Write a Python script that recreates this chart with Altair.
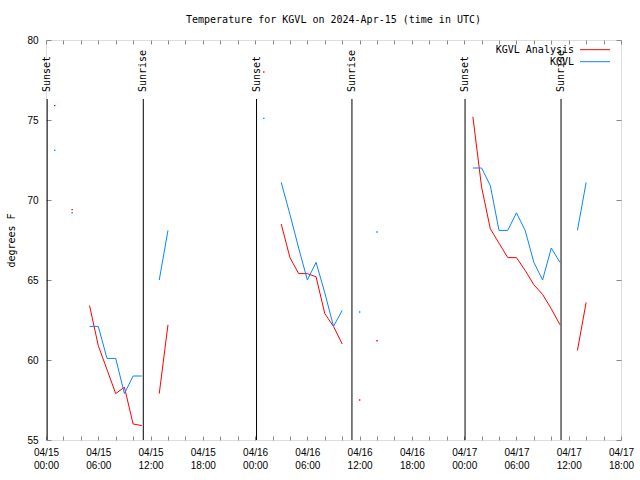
import altair as alt
import pandas as pd

FONT = "DejaVu Sans Mono"

# hours since 2024-04-15 00:00 UTC at which values exist
obs_hours = [1, 3, 5, 6, 7, 8, 9, 10, 11, 13, 14,
             25, 27, 28, 29, 30, 31, 32, 33, 34, 36, 38,
             49, 50, 51, 52, 53, 54, 55, 56, 57, 58, 59, 61, 62]
analysis_f = [75.9, 69.4, 63.4, 60.9, 59.4, 57.9, 58.3, 56.0, 55.9, 57.9, 62.2,
              78.0, 68.5, 66.4, 65.4, 65.4, 65.2, 62.9, 62.1, 61.0, 57.5, 61.2,
              75.2, 70.8, 68.2, 67.3, 66.4, 66.4, 65.6, 64.7, 64.1, 63.2, 62.2, 60.6, 63.6]
kgvl_f = [73.1, 69.2, 62.1, 62.1, 60.1, 60.1, 57.9, 59.0, 59.0, 65.0, 68.1,
          75.1, 71.1, 69.1, 67.0, 65.0, 66.1, 64.2, 62.1, 63.1, 63.0, 68.0,
          72.0, 72.0, 70.9, 68.1, 68.1, 69.2, 68.1, 66.1, 65.0, 67.0, 66.1, 68.1, 71.1]

series_names = ["KGVL Analysis", "KGVL"]
series_colors = ["#ff0000", "#0a84ff"]

sun_times = ["2024-04-15T00:08:00Z", "2024-04-15T11:10:00Z",
             "2024-04-16T00:10:00Z", "2024-04-16T11:07:00Z",
             "2024-04-17T00:06:00Z", "2024-04-17T11:07:00Z"]
sun_labels = ["Sunset", "Sunrise", "Sunset", "Sunrise", "Sunset", "Sunrise"]

title_text = "Temperature for KGVL on 2024-Apr-15 (time in UTC)"
y_title = "degrees F"
y_ticks = [55, 60, 65, 70, 75, 80]

# ---- build tables ----
base = pd.Timestamp("2024-04-15 00:00", tz="UTC")
seg_ids = []
seg = 0
for i, h in enumerate(obs_hours):
    if i > 0 and h - obs_hours[i - 1] != 1:
        seg += 1
    seg_ids.append(seg)
seg_sizes = pd.Series(seg_ids).value_counts().to_dict()

rows = []
for name, vals in zip(series_names, [analysis_f, kgvl_f]):
    for h, v, s in zip(obs_hours, vals, seg_ids):
        t = (base + pd.Timedelta(hours=h)).strftime("%Y-%m-%dT%H:%M:%SZ")
        rows.append({"time": t, "series": name, "temp": v, "seg": s,
                     "single": bool(seg_sizes[s] == 1)})
df = pd.DataFrame(rows)
df_single = df[df["single"]]
sun_df = pd.DataFrame({"time": sun_times, "label": sun_labels})

x_dom = [alt.DateTime(year=2024, month=4, date=15, hours=0, utc=True),
         alt.DateTime(year=2024, month=4, date=17, hours=18, utc=True)]
xscale = alt.Scale(type="utc", domain=x_dom)
yscale = alt.Scale(domain=[55, 80], nice=False, zero=False)
tick_vals = [alt.DateTime(year=2024, month=4, date=15 + h // 24, hours=h % 24, utc=True)
             for h in range(0, 67, 2)]

label_expr = ("utchours(datum.value) % 6 == 0 ? "
              "[utcFormat(datum.value, '%m/%d'), utcFormat(datum.value, '%H:%M')] : ''")

bottom_axis = alt.Axis(orient="bottom", values=tick_vals, labelExpr=label_expr,
                       tickSize=4, offset=-4, domain=False, grid=False,
                       labelPadding=7, labelBaseline="top", labelLineHeight=13,
                       labelOverlap=False, labelFlush=False, labelBound=False,
                       labelAngle=0, title=None)
top_axis = alt.Axis(orient="top", values=tick_vals, labels=False, tickSize=4,
                    offset=-4, domain=False, grid=False, title=None)
left_axis = alt.Axis(orient="left", values=y_ticks, tickSize=5, offset=-5,
                     domain=False, grid=False, labelPadding=8, labelFlush=False,
                     labelOverlap=False, title=y_title, titlePadding=10,
                     titleFontWeight="normal", titleFont=FONT, titleFontSize=10)
right_axis = alt.Axis(orient="right", values=y_ticks, tickSize=5, offset=-5,
                      domain=False, grid=False, labels=False, title=None)

color_scale = alt.Scale(domain=series_names, range=series_colors)

lines = alt.Chart(df).mark_line(strokeWidth=1).encode(
    x=alt.X("time:T", scale=xscale, axis=bottom_axis),
    y=alt.Y("temp:Q", scale=yscale, axis=left_axis),
    color=alt.Color("series:N", scale=color_scale, legend=None),
    detail="seg:N",
)

dots = alt.Chart(df_single).mark_square(size=2, opacity=1).encode(
    x=alt.X("time:T", scale=xscale, axis=None),
    y=alt.Y("temp:Q", scale=yscale, axis=None),
    color=alt.Color("series:N", scale=color_scale, legend=None),
)

sun_rules = alt.Chart(sun_df).mark_rule(color="black", strokeWidth=1).encode(
    x=alt.X("time:T", scale=xscale, axis=None),
    y=alt.value(59),
    y2=alt.value(400),
)

sun_text = alt.Chart(sun_df).mark_text(angle=270, align="left", baseline="middle",
                                       font=FONT, fontSize=10, color="black").encode(
    x=alt.X("time:T", scale=xscale, axis=None),
    y=alt.value(52),
    text="label:N",
)

carrier = alt.Chart(df).mark_point(opacity=0).encode(
    x=alt.X("time:T", scale=xscale, axis=top_axis),
    y=alt.Y("temp:Q", scale=yscale, axis=right_axis),
)

# gnuplot-style key in the top-right corner
key_layers = []
for i, (name, col) in enumerate(zip(series_names, series_colors)):
    key_df = pd.DataFrame({"series": [name]})
    row_y = 9.7 + 12 * i
    key_layers.append(
        alt.Chart(key_df).mark_text(align="right", baseline="middle", font=FONT,
                                    fontSize=10, color="black").encode(
            x=alt.value(528), y=alt.value(row_y), text="series:N"))
    key_layers.append(
        alt.Chart(key_df).mark_rule(strokeWidth=1).encode(
            x=alt.value(534), x2=alt.value(564), y=alt.value(row_y),
            color=alt.Color("series:N", scale=color_scale, legend=None)))

chart = alt.layer(lines, dots, sun_rules, sun_text, carrier, *key_layers).resolve_axis(
    x="independent", y="independent"
).properties(
    width=575, height=400,
    title=alt.TitleParams(title_text, font=FONT, fontSize=10, fontWeight="normal",
                          anchor="middle", color="black", offset=0,
                          baseline="bottom"),
    autosize=alt.AutoSizeParams(type="none"),
    padding={"left": 46, "top": 40, "right": 19, "bottom": 40},
).configure_view(
    stroke="black", strokeWidth=1
).configure_axis(
    labelFont=FONT, titleFont=FONT, labelFontSize=10, titleFontSize=10,
    titleFontWeight="normal", labelColor="black", titleColor="black",
    tickColor="black", tickWidth=1
).configure(background="white")

chart.save("out.html", embed_options={"renderer": "svg", "actions": False})
